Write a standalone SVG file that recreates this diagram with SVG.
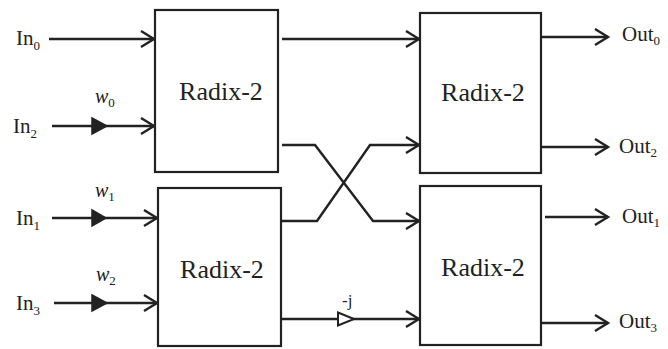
<svg xmlns="http://www.w3.org/2000/svg" width="668" height="349" viewBox="0 0 668 349">
<style>
.box{fill:#fff;stroke:#222;stroke-width:2.2}
.ln{fill:none;stroke:#222;stroke-width:2.4}
text{font-family:'Liberation Serif','DejaVu Serif',serif;fill:#222}
.rad{font-size:26px;text-anchor:middle}
.io{font-size:21px}
.w{font-size:20px;font-style:italic}
.sub{font-size:13px;font-style:normal}
.tri{fill:#222;stroke:#222;stroke-width:1.5}
.otri{fill:#fff;stroke:#222;stroke-width:2}
</style>
<defs>
<marker id="arr" markerUnits="userSpaceOnUse" markerWidth="18" markerHeight="20" refX="14" refY="9" orient="auto" viewBox="0 0 18 20">
<path d="M1,1 L14,9 L1,17" fill="none" stroke="#222" stroke-width="2.4"/>
</marker>
</defs>
<g id="connectors">
<path class="ln" d="M49,39 H154" marker-end="url(#arr)"/>
<path class="ln" d="M52,126 H154" marker-end="url(#arr)"/>
<path class="ln" d="M52,218 H157" marker-end="url(#arr)"/>
<path class="ln" d="M54,303 H157" marker-end="url(#arr)"/>
<polygon class="tri" points="92,118 107,126 92,134"/>
<polygon class="tri" points="92,210 106,218 92,226"/>
<polygon class="tri" points="92,295 107,303 92,311"/>
<path class="ln" d="M282,39 H419" marker-end="url(#arr)"/>
<path class="ln" d="M282,145 H315 L373,221 H419" marker-end="url(#arr)"/>
<path class="ln" d="M281,221 H317 L370,145 H419" marker-end="url(#arr)"/>
<path class="ln" d="M281,319 H419" marker-end="url(#arr)"/>
<polygon class="otri" points="338,312.5 354,319 338,325.5"/>
<path class="ln" d="M541,37 H608" marker-end="url(#arr)"/>
<path class="ln" d="M541,147 H608" marker-end="url(#arr)"/>
<path class="ln" d="M545,217 H608" marker-end="url(#arr)"/>
<path class="ln" d="M541,323 H608" marker-end="url(#arr)"/>
</g>
<g id="radix1"><rect class="box" x="155" y="10" width="123" height="162"/><text class="rad" x="221" y="100">Radix-2</text></g>
<g id="radix2"><rect class="box" x="158" y="188" width="123" height="158"/><text class="rad" x="222" y="278">Radix-2</text></g>
<g id="radix3"><rect class="box" x="420" y="13" width="121" height="160"/><text class="rad" x="483" y="101">Radix-2</text></g>
<g id="radix4"><rect class="box" x="420" y="186" width="121" height="159"/><text class="rad" x="483" y="276">Radix-2</text></g>
<g id="in0"><text class="io" x="16" y="45">In<tspan class="sub" dy="5">0</tspan></text></g>
<g id="in2"><text class="io" x="13" y="133">In<tspan class="sub" dy="5">2</tspan></text></g>
<g id="in1"><text class="io" x="16" y="225">In<tspan class="sub" dy="5">1</tspan></text></g>
<g id="in3"><text class="io" x="16" y="310">In<tspan class="sub" dy="5">3</tspan></text></g>
<g id="w0"><text class="w" x="95" y="103">w<tspan class="sub" dy="4">0</tspan></text></g>
<g id="w1"><text class="w" x="95" y="197">w<tspan class="sub" dy="4">1</tspan></text></g>
<g id="w2"><text class="w" x="96" y="281">w<tspan class="sub" dy="4">2</tspan></text></g>
<g id="mj"><text x="342" y="306" style="font-size:17px">-j</text></g>
<g id="out0"><text class="io" x="622" y="41">Out<tspan class="sub" dy="4">0</tspan></text></g>
<g id="out2"><text class="io" x="619" y="153">Out<tspan class="sub" dy="4">2</tspan></text></g>
<g id="out1"><text class="io" x="622" y="223">Out<tspan class="sub" dy="4">1</tspan></text></g>
<g id="out3"><text class="io" x="619" y="328">Out<tspan class="sub" dy="4">3</tspan></text></g>
</svg>
